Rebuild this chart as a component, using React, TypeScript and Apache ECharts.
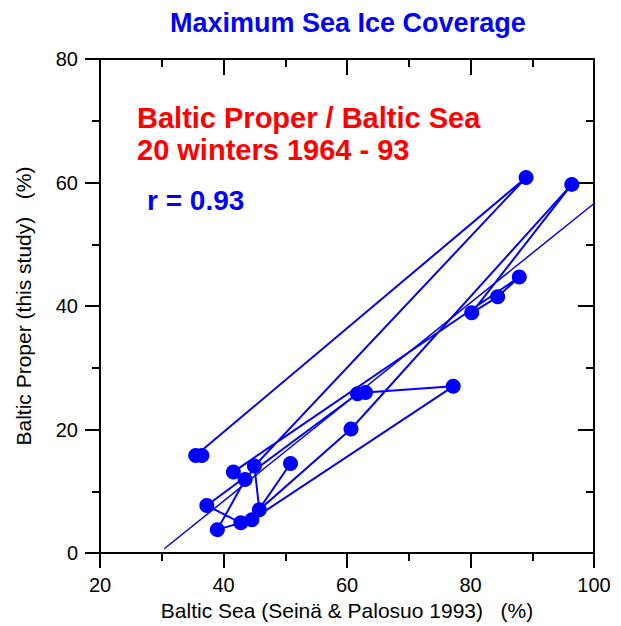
import React, { useEffect, useRef } from "react";
import * as echarts from "echarts";

// Winters (plotted in connection order): Baltic Sea % (x) vs Baltic Proper % (y)
const balticSea = [36.5, 35.5, 89.0, 45.0, 45.8, 60.65, 96.4, 80.2, 84.4, 87.9, 41.6, 43.5, 39.0, 42.8, 37.3, 61.7, 63.0, 77.2, 44.6, 50.85];
const balticProper = [15.8, 15.8, 60.8, 14.1, 7.0, 20.1, 59.7, 38.9, 41.5, 44.7, 13.15, 11.9, 3.8, 4.9, 7.7, 25.8, 26.0, 27.0, 5.4, 14.5];

// Regression line end points
const fitX = [30.4, 100];
const fitY = [0.7, 56.6];

const xTicks = [20, 40, 60, 80, 100];
const yTicks = [0, 20, 40, 60, 80];

const FONT = "'Liberation Sans', Arial, Helvetica, sans-serif";
const BLUE = "#0000ff";
const RED = "#ff0000";

export default function App() {
  const ref = useRef<HTMLDivElement>(null);
  useEffect(() => {
    if (!ref.current) return;
    const chart = echarts.init(ref.current, null, { renderer: "svg" });
    const pts = balticSea.map((x, i) => [x, balticProper[i]]);
    const fit = fitX.map((x, i) => [x, fitY[i]]);
    const axisCommon = {
      axisLine: { show: true, onZero: false, lineStyle: { color: "#000", width: 2 } },
      splitLine: { show: false },
    };
    chart.setOption({
      animation: false,
      backgroundColor: "#fff",
      textStyle: { fontFamily: FONT },
      grid: { left: 100, right: 27, top: 59, bottom: 70, containLabel: false },
      xAxis: [
        {
          type: "value",
          min: xTicks[0],
          max: xTicks[xTicks.length - 1],
          interval: 20,
          position: "bottom",
          ...axisCommon,
          axisTick: { show: true, inside: false, length: 15, lineStyle: { color: "#000", width: 2 } },
          minorTick: { show: true, splitNumber: 2, length: 8, lineStyle: { color: "#000", width: 2 } },
          minorSplitLine: { show: false },
          axisLabel: { color: "#000", fontSize: 20, fontFamily: FONT, margin: 22 },
          name: "Baltic Sea (Seinä & Palosuo 1993)   (%)",
          nameLocation: "middle",
          nameGap: 36,
          nameTextStyle: { color: "#000", fontSize: 21, fontFamily: FONT },
        },
        {
          type: "value",
          min: xTicks[0],
          max: xTicks[xTicks.length - 1],
          interval: 20,
          position: "top",
          ...axisCommon,
          axisTick: { show: true, inside: true, length: 16, lineStyle: { color: "#000", width: 2 } },
          minorTick: { show: true, splitNumber: 2, length: 8, lineStyle: { color: "#000", width: 2 } },
          axisLabel: { show: false },
        },
      ],
      yAxis: [
        {
          type: "value",
          min: yTicks[0],
          max: yTicks[yTicks.length - 1],
          interval: 20,
          position: "left",
          ...axisCommon,
          axisTick: { show: true, inside: false, length: 15, lineStyle: { color: "#000", width: 2 } },
          minorTick: { show: true, splitNumber: 2, length: 8, lineStyle: { color: "#000", width: 2 } },
          axisLabel: { color: "#000", fontSize: 20, fontFamily: FONT, margin: 22 },
          name: "Baltic Proper (this study)   (%)",
          nameLocation: "middle",
          nameGap: 66,
          nameTextStyle: { color: "#000", fontSize: 21, fontFamily: FONT },
        },
        {
          type: "value",
          min: yTicks[0],
          max: yTicks[yTicks.length - 1],
          interval: 20,
          position: "right",
          ...axisCommon,
          axisTick: { show: true, inside: true, length: 16, lineStyle: { color: "#000", width: 2 } },
          minorTick: { show: true, splitNumber: 2, length: 8, lineStyle: { color: "#000", width: 2 } },
          axisLabel: { show: false },
        },
      ],
      series: [
        {
          type: "line",
          xAxisIndex: 0,
          yAxisIndex: 0,
          data: fit,
          showSymbol: false,
          symbol: "none",
          lineStyle: { color: BLUE, width: 1.5 },
          z: 2,
        },
        {
          type: "line",
          xAxisIndex: 0,
          yAxisIndex: 0,
          data: pts,
          symbol: "circle",
          symbolSize: 15,
          showSymbol: true,
          itemStyle: { color: BLUE },
          lineStyle: { color: BLUE, width: 2 },
          z: 3,
        },
      ],
      graphic: [
        {
          type: "text",
          left: 170,
          top: 9,
          style: { text: "Maximum Sea Ice Coverage", font: `bold 27px ${FONT}`, fill: BLUE },
        },
        {
          type: "text",
          x: 137,
          y: 118,
          style: { text: "Baltic Proper / Baltic Sea", font: `bold 29px ${FONT}`, fill: RED, textVerticalAlign: "middle" },
        },
        {
          type: "text",
          x: 137,
          y: 150,
          style: { text: "20 winters 1964 - 93", font: `bold 29px ${FONT}`, fill: RED, textVerticalAlign: "middle" },
        },
        {
          type: "text",
          x: 147,
          y: 200,
          style: { text: "r = 0.93", font: `bold 28px ${FONT}`, fill: BLUE, textVerticalAlign: "middle" },
        },
      ],
    });
    return () => chart.dispose();
  }, []);
  return (
    <div
      ref={ref}
      style={{ position: "fixed", left: 0, top: 0, width: 621, height: 626, background: "#fff" }}
    />
  );
}
